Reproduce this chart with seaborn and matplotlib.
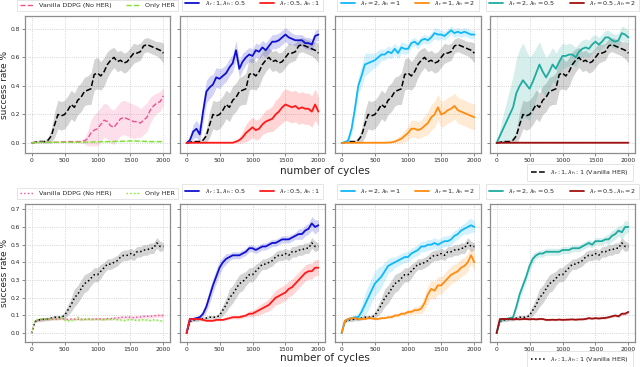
import numpy as np
import matplotlib
matplotlib.use("Agg")
import matplotlib.pyplot as plt
import seaborn as sns

# x axis: training cycles (sampled every 50)
cycles = list(range(0, 2001, 50))

# ---------------- top row ----------------
top_her = [0.00, 0.005, 0.01, 0.01, 0.01, 0.02, 0.05, 0.13, 0.20, 0.19,
           0.20, 0.23, 0.27, 0.25, 0.30, 0.32, 0.36, 0.37, 0.38, 0.48,
           0.49, 0.47, 0.50, 0.55, 0.58, 0.60, 0.57, 0.58, 0.56, 0.57,
           0.60, 0.63, 0.63, 0.64, 0.68, 0.69, 0.68, 0.67, 0.66, 0.65, 0.63]
top_her_sd = [0.0, 0.005, 0.01, 0.01, 0.01, 0.02, 0.05, 0.09, 0.10, 0.10,
              0.10, 0.10, 0.10, 0.10, 0.10, 0.10, 0.10, 0.10, 0.11, 0.11,
              0.11, 0.10, 0.10, 0.09, 0.08, 0.07, 0.07, 0.07, 0.07, 0.07,
              0.07, 0.07, 0.06, 0.06, 0.05, 0.05, 0.05, 0.05, 0.05, 0.06, 0.07]
top_ddpg = [0.0, 0.005, 0.005, 0.005, 0.005, 0.005, 0.005, 0.005, 0.005, 0.008,
            0.008, 0.01, 0.01, 0.01, 0.01, 0.01, 0.015, 0.03, 0.07, 0.09,
            0.10, 0.13, 0.16, 0.15, 0.12, 0.11, 0.14, 0.17, 0.18, 0.17,
            0.16, 0.15, 0.15, 0.14, 0.16, 0.18, 0.23, 0.26, 0.28, 0.29, 0.33]
top_ddpg_sd = [0.0, 0.003, 0.003, 0.003, 0.003, 0.003, 0.003, 0.003, 0.003, 0.004,
               0.004, 0.005, 0.005, 0.005, 0.005, 0.01, 0.02, 0.05, 0.09, 0.11,
               0.12, 0.12, 0.12, 0.12, 0.12, 0.12, 0.12, 0.12, 0.12, 0.12,
               0.12, 0.12, 0.11, 0.10, 0.10, 0.10, 0.09, 0.08, 0.07, 0.07, 0.06]
top_only = [0.0, 0.003, 0.005, 0.005, 0.005, 0.005, 0.005, 0.005, 0.005, 0.005,
            0.005, 0.005, 0.005, 0.005, 0.006, 0.006, 0.006, 0.007, 0.007, 0.008,
            0.008, 0.009, 0.01, 0.01, 0.01, 0.011, 0.012, 0.012, 0.013, 0.014,
            0.015, 0.015, 0.014, 0.013, 0.012, 0.011, 0.01, 0.01, 0.01, 0.01, 0.01]
top_only_sd = [0.0, 0.002, 0.003, 0.003, 0.003, 0.003, 0.003, 0.003, 0.003, 0.003,
               0.003, 0.003, 0.003, 0.004, 0.004, 0.004, 0.004, 0.004, 0.005, 0.005,
               0.005, 0.005, 0.005, 0.006, 0.006, 0.006, 0.006, 0.006, 0.006, 0.006,
               0.006, 0.006, 0.006, 0.006, 0.006, 0.005, 0.005, 0.005, 0.005, 0.005, 0.005]
top_blue = [0.0, 0.02, 0.08, 0.10, 0.06, 0.22, 0.36, 0.39, 0.41, 0.46,
            0.45, 0.47, 0.49, 0.53, 0.56, 0.65, 0.52, 0.57, 0.60, 0.62,
            0.61, 0.65, 0.64, 0.67, 0.65, 0.68, 0.71, 0.71, 0.72, 0.74,
            0.76, 0.74, 0.73, 0.72, 0.72, 0.72, 0.70, 0.70, 0.69, 0.75, 0.76]
top_blue_sd = [0.0, 0.02, 0.05, 0.06, 0.06, 0.08, 0.08, 0.08, 0.07, 0.07,
               0.07, 0.06, 0.06, 0.06, 0.06, 0.07, 0.06, 0.06, 0.05, 0.05,
               0.05, 0.05, 0.05, 0.05, 0.05, 0.05, 0.05, 0.05, 0.05, 0.05,
               0.05, 0.05, 0.04, 0.04, 0.04, 0.04, 0.04, 0.04, 0.04, 0.04, 0.04]
top_red = [0.0, 0.002, 0.002, 0.002, 0.002, 0.002, 0.002, 0.002, 0.002, 0.002,
           0.002, 0.002, 0.002, 0.002, 0.002, 0.01, 0.02, 0.04, 0.07, 0.09,
           0.11, 0.09, 0.10, 0.13, 0.15, 0.16, 0.17, 0.20, 0.22, 0.25,
           0.27, 0.26, 0.25, 0.26, 0.24, 0.25, 0.24, 0.24, 0.22, 0.27, 0.22]
top_red_sd = [0.0, 0.001, 0.001, 0.001, 0.001, 0.001, 0.001, 0.001, 0.001, 0.001,
              0.001, 0.001, 0.001, 0.001, 0.002, 0.01, 0.02, 0.04, 0.06, 0.07,
              0.07, 0.07, 0.07, 0.07, 0.08, 0.08, 0.09, 0.10, 0.10, 0.11,
              0.11, 0.11, 0.11, 0.11, 0.11, 0.11, 0.11, 0.11, 0.11, 0.11, 0.10]
top_cyan = [0.0, 0.005, 0.02, 0.10, 0.24, 0.40, 0.47, 0.55, 0.56, 0.57,
            0.58, 0.60, 0.62, 0.62, 0.64, 0.63, 0.66, 0.63, 0.67, 0.66,
            0.66, 0.70, 0.71, 0.69, 0.72, 0.73, 0.72, 0.74, 0.77, 0.76,
            0.76, 0.75, 0.77, 0.79, 0.77, 0.78, 0.77, 0.78, 0.77, 0.76, 0.76]
top_cyan_sd = [0.0, 0.005, 0.02, 0.04, 0.05, 0.06, 0.07, 0.08, 0.07, 0.06,
               0.05, 0.05, 0.04, 0.04, 0.04, 0.04, 0.04, 0.04, 0.04, 0.04,
               0.03, 0.03, 0.03, 0.03, 0.03, 0.03, 0.03, 0.03, 0.04, 0.04,
               0.03, 0.03, 0.03, 0.03, 0.03, 0.03, 0.03, 0.03, 0.03, 0.03, 0.03]
top_orange = [0.0, 0.002, 0.002, 0.002, 0.002, 0.002, 0.002, 0.002, 0.002, 0.002,
              0.002, 0.002, 0.002, 0.002, 0.003, 0.005, 0.01, 0.02, 0.03, 0.05,
              0.07, 0.10, 0.10, 0.09, 0.10, 0.12, 0.14, 0.18, 0.20, 0.25,
              0.20, 0.21, 0.23, 0.24, 0.26, 0.23, 0.22, 0.21, 0.20, 0.19, 0.18]
top_orange_sd = [0.0, 0.001, 0.001, 0.001, 0.001, 0.001, 0.001, 0.001, 0.001, 0.001,
                 0.001, 0.001, 0.001, 0.001, 0.002, 0.005, 0.01, 0.02, 0.03, 0.04,
                 0.05, 0.06, 0.06, 0.06, 0.06, 0.07, 0.08, 0.09, 0.09, 0.09,
                 0.09, 0.09, 0.09, 0.09, 0.09, 0.09, 0.09, 0.09, 0.09, 0.09, 0.09]
top_teal = [0.0, 0.05, 0.10, 0.15, 0.20, 0.25, 0.35, 0.40, 0.44, 0.41,
            0.38, 0.43, 0.49, 0.55, 0.50, 0.46, 0.50, 0.55, 0.52, 0.57,
            0.61, 0.61, 0.62, 0.62, 0.60, 0.64, 0.66, 0.67, 0.66, 0.69,
            0.71, 0.69, 0.71, 0.74, 0.74, 0.72, 0.71, 0.72, 0.77, 0.76, 0.74]
top_teal_sd = [0.0, 0.05, 0.10, 0.14, 0.18, 0.22, 0.24, 0.26, 0.26, 0.24,
               0.22, 0.20, 0.18, 0.16, 0.15, 0.14, 0.13, 0.12, 0.11, 0.10,
               0.09, 0.08, 0.08, 0.07, 0.07, 0.06, 0.06, 0.06, 0.06, 0.06,
               0.05, 0.05, 0.05, 0.05, 0.05, 0.05, 0.05, 0.05, 0.05, 0.05, 0.05]
top_dred = [0.0, 0.002, 0.002, 0.002, 0.002, 0.002, 0.002, 0.002, 0.002, 0.002,
            0.002, 0.002, 0.002, 0.002, 0.002, 0.002, 0.002, 0.002, 0.002, 0.002,
            0.002, 0.002, 0.002, 0.002, 0.002, 0.002, 0.002, 0.002, 0.002, 0.002,
            0.002, 0.002, 0.002, 0.002, 0.002, 0.002, 0.002, 0.002, 0.002, 0.002, 0.002]
top_dred_sd = [0.002] * 41

# ---------------- bottom row ----------------
bot_her = [0.0, 0.065, 0.075, 0.075, 0.08, 0.08, 0.085, 0.09, 0.09, 0.09,
           0.10, 0.13, 0.16, 0.20, 0.22, 0.25, 0.28, 0.29, 0.31, 0.33,
           0.33, 0.35, 0.37, 0.39, 0.39, 0.40, 0.41, 0.43, 0.44, 0.44,
           0.45, 0.44, 0.46, 0.46, 0.47, 0.47, 0.48, 0.48, 0.51, 0.49, 0.49]
bot_her_sd = [0.0, 0.005, 0.01, 0.01, 0.01, 0.01, 0.01, 0.01, 0.01, 0.01,
              0.02, 0.03, 0.04, 0.05, 0.05, 0.05, 0.05, 0.05, 0.04, 0.04,
              0.04, 0.04, 0.03, 0.03, 0.03, 0.03, 0.03, 0.03, 0.03, 0.03,
              0.03, 0.03, 0.03, 0.03, 0.03, 0.03, 0.03, 0.03, 0.03, 0.03, 0.02]
bot_ddpg = [0.0, 0.065, 0.075, 0.078, 0.078, 0.08, 0.08, 0.078, 0.08, 0.082,
            0.08, 0.078, 0.08, 0.08, 0.078, 0.08, 0.078, 0.08, 0.08, 0.08,
            0.08, 0.08, 0.08, 0.082, 0.082, 0.085, 0.085, 0.09, 0.09, 0.09,
            0.09, 0.088, 0.09, 0.092, 0.095, 0.095, 0.095, 0.097, 0.10, 0.10, 0.10]
bot_ddpg_sd = [0.0, 0.005, 0.006, 0.006, 0.006, 0.006, 0.006, 0.006, 0.006, 0.006,
               0.006, 0.006, 0.006, 0.006, 0.006, 0.006, 0.006, 0.006, 0.006, 0.006,
               0.007, 0.007, 0.007, 0.007, 0.008, 0.008, 0.008, 0.008, 0.008, 0.009,
               0.009, 0.009, 0.009, 0.01, 0.01, 0.01, 0.01, 0.01, 0.01, 0.01, 0.01]
bot_only = [0.0, 0.07, 0.08, 0.08, 0.078, 0.08, 0.08, 0.082, 0.08, 0.09,
            0.075, 0.07, 0.075, 0.072, 0.09, 0.075, 0.078, 0.08, 0.076, 0.078,
            0.08, 0.078, 0.075, 0.08, 0.078, 0.08, 0.076, 0.075, 0.072, 0.075,
            0.078, 0.075, 0.072, 0.075, 0.076, 0.074, 0.072, 0.075, 0.074, 0.07, 0.07]
bot_only_sd = [0.0, 0.005, 0.006, 0.006, 0.006, 0.006, 0.006, 0.006, 0.006, 0.007,
               0.007, 0.007, 0.007, 0.007, 0.007, 0.007, 0.006, 0.006, 0.006, 0.006,
               0.006, 0.006, 0.006, 0.006, 0.006, 0.006, 0.006, 0.006, 0.006, 0.006,
               0.006, 0.006, 0.006, 0.006, 0.006, 0.006, 0.006, 0.006, 0.006, 0.006, 0.006]
bot_blue = [0.0, 0.08, 0.08, 0.085, 0.09, 0.11, 0.15, 0.21, 0.27, 0.32,
            0.37, 0.40, 0.42, 0.43, 0.44, 0.44, 0.44, 0.45, 0.46, 0.48,
            0.48, 0.47, 0.48, 0.49, 0.49, 0.50, 0.51, 0.51, 0.52, 0.53,
            0.53, 0.53, 0.54, 0.55, 0.56, 0.56, 0.58, 0.59, 0.62, 0.60, 0.61]
bot_blue_sd = [0.0, 0.005, 0.01, 0.01, 0.01, 0.02, 0.03, 0.04, 0.04, 0.04,
               0.04, 0.03, 0.03, 0.02, 0.02, 0.02, 0.02, 0.02, 0.02, 0.02,
               0.02, 0.02, 0.02, 0.02, 0.02, 0.02, 0.02, 0.02, 0.02, 0.02,
               0.02, 0.02, 0.02, 0.02, 0.03, 0.03, 0.03, 0.03, 0.04, 0.04, 0.03]
bot_red = [0.0, 0.08, 0.08, 0.08, 0.08, 0.075, 0.07, 0.07, 0.07, 0.075,
           0.075, 0.075, 0.08, 0.085, 0.09, 0.09, 0.09, 0.095, 0.10, 0.11,
           0.11, 0.12, 0.13, 0.14, 0.15, 0.16, 0.18, 0.20, 0.21, 0.22,
           0.23, 0.25, 0.26, 0.28, 0.30, 0.32, 0.34, 0.35, 0.35, 0.37, 0.37]
bot_red_sd = [0.0, 0.005, 0.005, 0.005, 0.005, 0.005, 0.005, 0.005, 0.005, 0.005,
              0.005, 0.005, 0.006, 0.007, 0.008, 0.01, 0.01, 0.01, 0.01, 0.015,
              0.02, 0.02, 0.025, 0.03, 0.03, 0.035, 0.04, 0.04, 0.045, 0.045,
              0.045, 0.045, 0.045, 0.045, 0.045, 0.045, 0.045, 0.045, 0.045, 0.045, 0.045]
bot_cyan = [0.0, 0.07, 0.08, 0.085, 0.09, 0.09, 0.12, 0.16, 0.20, 0.24,
            0.28, 0.30, 0.32, 0.35, 0.38, 0.39, 0.40, 0.41, 0.42, 0.43,
            0.43, 0.45, 0.46, 0.47, 0.49, 0.49, 0.50, 0.50, 0.51, 0.50,
            0.51, 0.52, 0.52, 0.53, 0.55, 0.56, 0.58, 0.59, 0.60, 0.61, 0.60]
bot_cyan_sd = [0.0, 0.005, 0.01, 0.01, 0.01, 0.02, 0.04, 0.06, 0.07, 0.07,
               0.07, 0.07, 0.06, 0.05, 0.04, 0.04, 0.03, 0.03, 0.03, 0.03,
               0.03, 0.03, 0.03, 0.03, 0.03, 0.03, 0.03, 0.03, 0.03, 0.03,
               0.03, 0.03, 0.03, 0.03, 0.03, 0.03, 0.03, 0.03, 0.04, 0.04, 0.03]
bot_orange = [0.0, 0.07, 0.08, 0.085, 0.085, 0.08, 0.08, 0.08, 0.085, 0.085,
              0.08, 0.08, 0.085, 0.085, 0.09, 0.09, 0.10, 0.10, 0.11, 0.11,
              0.12, 0.12, 0.13, 0.13, 0.14, 0.17, 0.22, 0.25, 0.24, 0.27,
              0.27, 0.29, 0.31, 0.33, 0.34, 0.35, 0.37, 0.38, 0.40, 0.44, 0.40]
bot_orange_sd = [0.0, 0.005, 0.005, 0.005, 0.005, 0.005, 0.005, 0.005, 0.005, 0.005,
                 0.005, 0.005, 0.005, 0.005, 0.006, 0.006, 0.008, 0.01, 0.01, 0.01,
                 0.015, 0.015, 0.02, 0.02, 0.03, 0.04, 0.05, 0.05, 0.05, 0.05,
                 0.05, 0.05, 0.05, 0.05, 0.05, 0.05, 0.05, 0.05, 0.05, 0.05, 0.05]
bot_teal = [0.0, 0.07, 0.08, 0.08, 0.085, 0.09, 0.15, 0.22, 0.27, 0.32,
            0.38, 0.42, 0.44, 0.45, 0.45, 0.46, 0.46, 0.46, 0.46, 0.46,
            0.47, 0.47, 0.47, 0.48, 0.48, 0.48, 0.49, 0.50, 0.51, 0.50,
            0.52, 0.52, 0.52, 0.53, 0.53, 0.55, 0.56, 0.58, 0.57, 0.60, 0.60]
bot_teal_sd = [0.0, 0.005, 0.01, 0.01, 0.01, 0.01, 0.02, 0.03, 0.03, 0.03,
               0.03, 0.03, 0.02, 0.02, 0.02, 0.02, 0.02, 0.02, 0.02, 0.02,
               0.02, 0.02, 0.02, 0.02, 0.02, 0.02, 0.02, 0.02, 0.02, 0.02,
               0.02, 0.02, 0.02, 0.02, 0.03, 0.03, 0.03, 0.03, 0.04, 0.04, 0.03]
bot_dred = [0.0, 0.08, 0.08, 0.08, 0.08, 0.078, 0.08, 0.078, 0.08, 0.08,
            0.078, 0.08, 0.078, 0.08, 0.08, 0.075, 0.075, 0.076, 0.075, 0.077,
            0.075, 0.076, 0.077, 0.078, 0.076, 0.078, 0.078, 0.08, 0.085, 0.082,
            0.085, 0.083, 0.085, 0.086, 0.09, 0.095, 0.10, 0.095, 0.11, 0.11, 0.12]
bot_dred_sd = [0.0, 0.004, 0.005, 0.005, 0.005, 0.005, 0.005, 0.005, 0.005, 0.005,
               0.005, 0.005, 0.005, 0.005, 0.005, 0.005, 0.005, 0.005, 0.005, 0.005,
               0.005, 0.005, 0.005, 0.005, 0.005, 0.005, 0.005, 0.005, 0.006, 0.006,
               0.006, 0.006, 0.006, 0.006, 0.006, 0.007, 0.007, 0.007, 0.008, 0.008, 0.008]

lab_ddpg = "Vanilla DDPG (No HER)"
lab_only = "Only HER"
lab_her = r"$\lambda_r: 1, \lambda_h: 1$ (Vanilla HER)"
pair_labels = [
    (lab_ddpg, lab_only),
    (r"$\lambda_r: 1, \lambda_h: 0.5$", r"$\lambda_r: 0.5, \lambda_h: 1$"),
    (r"$\lambda_r = 2, \lambda_h = 1$", r"$\lambda_r = 1, \lambda_h = 2$"),
    (r"$\lambda_r = 2, \lambda_h = 0.5$", r"$\lambda_r = 0.5, \lambda_h = 2$"),
]
pair_colors = [("#f0508c", "#7fe030"), ("#1010d0", "#ff1a1a"),
               ("#10b8f8", "#ff8c10"), ("#20aaa0", "#a01010")]

rows = [
    dict(her=(top_her, top_her_sd), ls_her="--", ls_base="--",
         pairs=[((top_ddpg, top_ddpg_sd), (top_only, top_only_sd)),
                ((top_blue, top_blue_sd), (top_red, top_red_sd)),
                ((top_cyan, top_cyan_sd), (top_orange, top_orange_sd)),
                ((top_teal, top_teal_sd), (top_dred, top_dred_sd))],
         ylim=(-0.07, 0.89), yticks=[0.0, 0.2, 0.4, 0.6, 0.8],
         bottom=1 - 153 / 367, height=137 / 367, xlab_y=1 - 171 / 367),
    dict(her=(bot_her, bot_her_sd), ls_her=":", ls_base=":",
         pairs=[((bot_ddpg, bot_ddpg_sd), (bot_only, bot_only_sd)),
                ((bot_blue, bot_blue_sd), (bot_red, bot_red_sd)),
                ((bot_cyan, bot_cyan_sd), (bot_orange, bot_orange_sd)),
                ((bot_teal, bot_teal_sd), (bot_dred, bot_dred_sd))],
         ylim=(-0.05, 0.73), yticks=[0.0, 0.1, 0.2, 0.3, 0.4, 0.5, 0.6, 0.7],
         bottom=1 - 342 / 367, height=138 / 367, xlab_y=1 - 358 / 367),
]

sns.set_theme(style="whitegrid", rc={
    "axes.edgecolor": "0.55", "axes.linewidth": 0.9,
    "grid.linestyle": ":", "grid.color": "0.78", "grid.linewidth": 0.6,
})
plt.rcParams["font.family"] = ["DejaVu Sans"]

fig = plt.figure(figsize=(6.4, 3.67), dpi=100)
col_x = [(25, 170), (180, 325), (335, 481), (490, 635)]
x = np.array(cycles)


def draw(ax, vals, color, ls, lw, label, alpha):
    m, sd = np.array(vals[0]), np.array(vals[1])
    ax.fill_between(x, m - sd, m + sd, color=color, alpha=alpha, lw=0)
    sns.lineplot(x=x, y=m, ax=ax, color=color, linestyle=ls, lw=lw, label=label)


for r, row in enumerate(rows):
    for c, (x0, x1) in enumerate(col_x):
        ax = fig.add_axes([x0 / 640, row["bottom"], (x1 - x0) / 640, row["height"]])
        ls = row["ls_base"] if c == 0 else "-"
        lw = 1.0 if c == 0 else 1.3
        (a, b) = row["pairs"][c]
        la, lb = pair_labels[c]
        ca, cb = pair_colors[c]
        draw(ax, row["her"], "black", row["ls_her"], 1.1, lab_her, 0.17)
        draw(ax, a, ca, ls, lw, la, 0.18)
        draw(ax, b, cb, ls, lw, lb, 0.18)
        ax.set_xlim(-100, 2100)
        ax.set_ylim(*row["ylim"])
        ax.set_xticks([0, 500, 1000, 1500, 2000])
        ax.set_yticks(row["yticks"])
        ax.yaxis.set_major_formatter(matplotlib.ticker.FormatStrFormatter("%.1f"))
        ax.tick_params(labelsize=4.3, length=2, width=0.6, color="0.45",
                       left=True, bottom=True, pad=1.5)
        if c > 0:
            ax.set_yticklabels([])
            ax.set_ylabel("")
        else:
            ax.set_ylabel("success rate %", fontsize=6.5, labelpad=1)
        ax.set_xlabel("")
        handles, labels = ax.get_legend_handles_labels()
        leg = ax.legend(handles[1:], labels[1:], loc="lower center",
                        bbox_to_anchor=(0.5, 1.01), ncol=2, fontsize=4.6,
                        frameon=True, handlelength=2.2, columnspacing=2.2,
                        borderpad=0.5, fancybox=False)
        leg.get_frame().set_edgecolor("0.85")
        leg.get_frame().set_linewidth(0.6)
        if c == 3:
            leg2 = fig.legend(handles[:1], labels[:1], loc="upper right",
                              bbox_to_anchor=(636 / 640, row["xlab_y"] + 0.028),
                              fontsize=4.6, frameon=True, handlelength=2.2,
                              borderpad=0.6, fancybox=False)
            leg2.get_frame().set_edgecolor("0.85")
            leg2.get_frame().set_linewidth(0.6)
    fig.text(325 / 640, row["xlab_y"], "number of cycles", fontsize=7.5,
             ha="center", va="center")

fig.savefig("out.png", dpi=100)
